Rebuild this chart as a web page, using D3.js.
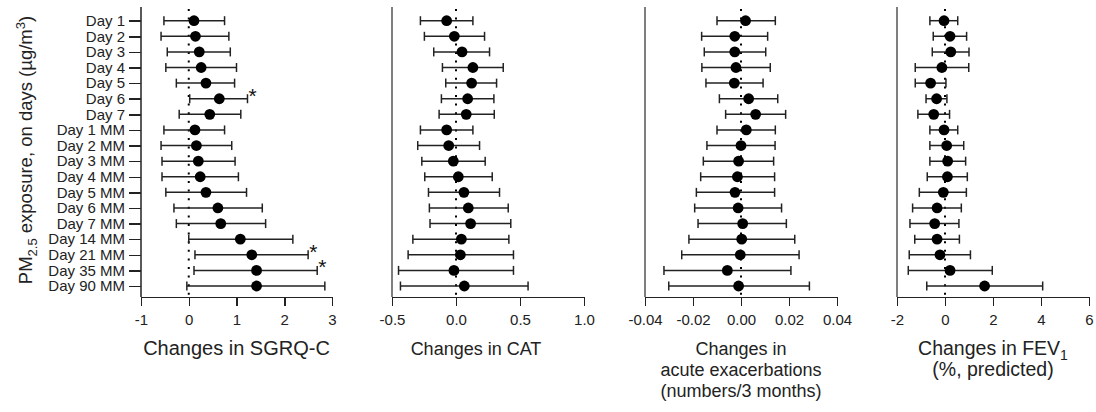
<!DOCTYPE html>
<html>
<head>
<meta charset="UTF-8">
<script src="https://d3js.org/d3.v7.min.js"></script>
<style>
  body { margin: 0; background: #fff; font-family: "Liberation Sans", Arial, sans-serif; }
  svg { display: block; }
  .axis path, .axis line { stroke: #222; stroke-width: 1.5; shape-rendering: crispEdges; }
  .axis text { font-size: 15px; fill: #222; }
  .rowlab text { font-size: 15px; fill: #222; }
  .title { fill: #222; text-anchor: middle; }
</style>
</head>
<body>
<script>
// row labels (top to bottom)
const days = ["Day 1", "Day 2", "Day 3", "Day 4", "Day 5", "Day 6", "Day 7",
  "Day 1 MM", "Day 2 MM", "Day 3 MM", "Day 4 MM", "Day 5 MM", "Day 6 MM", "Day 7 MM",
  "Day 14 MM", "Day 21 MM", "Day 35 MM", "Day 90 MM"];

// [estimate, lower CI, upper CI] per row
const sgrq = [[0.11,-0.52,0.75],[0.14,-0.58,0.84],[0.22,-0.45,0.87],[0.26,-0.48,1.00],[0.36,-0.26,0.96],
  [0.64,0.02,1.23],[0.44,-0.20,1.09],[0.13,-0.52,0.75],[0.16,-0.58,0.90],[0.20,-0.56,0.97],
  [0.24,-0.56,1.04],[0.36,-0.48,1.21],[0.61,-0.31,1.54],[0.67,-0.26,1.61],[1.08,0.00,2.18],
  [1.32,0.13,2.50],[1.42,0.11,2.69],[1.42,-0.04,2.85]];
const cat = [[-0.073,-0.278,0.132],[-0.013,-0.247,0.223],[0.047,-0.174,0.262],[0.132,-0.106,0.369],
  [0.122,-0.080,0.317],[0.091,-0.114,0.296],[0.080,-0.132,0.299],[-0.073,-0.278,0.132],
  [-0.057,-0.299,0.184],[-0.021,-0.267,0.228],[0.018,-0.244,0.283],[0.062,-0.215,0.340],
  [0.096,-0.208,0.408],[0.114,-0.203,0.428],[0.042,-0.337,0.413],[0.034,-0.374,0.449],
  [-0.016,-0.449,0.449],[0.065,-0.434,0.563]];
const exac = [[0.0019,-0.0100,0.0143],[-0.0026,-0.0164,0.0111],[-0.0026,-0.0153,0.0103],
  [-0.0021,-0.0163,0.0122],[-0.0028,-0.0146,0.0092],[0.0032,-0.0090,0.0153],[0.0061,-0.0064,0.0186],
  [0.0022,-0.0100,0.0143],[0.0000,-0.0142,0.0142],[-0.0010,-0.0157,0.0136],[-0.0015,-0.0168,0.0140],
  [-0.0025,-0.0186,0.0140],[-0.0012,-0.0193,0.0169],[0.0007,-0.0179,0.0189],[0.0003,-0.0217,0.0224],
  [-0.0003,-0.0247,0.0242],[-0.0057,-0.0321,0.0208],[-0.0010,-0.0301,0.0285]];
const fev = [[-0.04,-0.63,0.53],[0.21,-0.49,0.90],[0.24,-0.53,1.00],[-0.13,-1.24,0.99],
  [-0.60,-1.24,0.04],[-0.35,-0.79,0.08],[-0.47,-1.13,0.19],[-0.04,-0.63,0.53],[0.07,-0.63,0.78],
  [0.11,-0.63,0.86],[0.10,-0.74,0.93],[-0.07,-1.07,0.89],[-0.33,-1.35,0.68],[-0.43,-1.46,0.58],
  [-0.33,-1.26,0.60],[-0.21,-1.49,1.06],[0.21,-1.53,1.97],[1.65,-0.76,4.07]];

// significant rows (SGRQ-C only)
const sgrqStars = ["Day 6", "Day 21 MM", "Day 35 MM"];

// x-axis ticks
const ticks1 = [-1, 0, 1, 2, 3];
const ticks2 = [-0.5, 0.0, 0.5, 1.0];
const ticks3 = [-0.04, -0.02, 0.00, 0.02, 0.04];
const ticks4 = [-2, 0, 2, 4, 6];

const W = 1096, H = 412;
const plotTop = 7, axisY = 297;

const svg = d3.select("body").append("svg").attr("width", W).attr("height", H);

const y = d3.scalePoint().domain(days).range([20.7, 286]);

const panels = [
  { data: sgrq, domain: [-1, 3], range: [141, 332], ticks: ticks1, fmt: ".0f", stars: sgrqStars,
    titleX: 236.5, titleSize: 20, title: [["Changes in SGRQ-C"]] },
  { data: cat, domain: [-0.5, 1.0], range: [392, 584], ticks: ticks2, fmt: ".1f", stars: [],
    titleX: 476, titleSize: 18, title: [["Changes in CAT"]] },
  { data: exac, domain: [-0.04, 0.04], range: [645, 837], ticks: ticks3, fmt: ".2f", stars: [],
    titleX: 741, titleSize: 18, title: [["Changes in"], ["acute exacerbations"], ["(numbers/3 months)"]] },
  { data: fev, domain: [-2, 6], range: [897, 1089], ticks: ticks4, fmt: ".0f", stars: [],
    titleX: 993, titleSize: 19.5, title: [["Changes in FEV", "1"], ["(%, predicted)"]] }
];

panels.forEach((p, i) => {
  const x = d3.scaleLinear().domain(p.domain).range(p.range);
  const g = svg.append("g");
  const fmt = d3.format(p.fmt);

  // x axis
  g.append("g")
    .attr("class", "axis")
    .attr("transform", "translate(0," + axisY + ")")
    .call(d3.axisBottom(x).tickValues(p.ticks).tickSize(9).tickSizeOuter(0).tickPadding(8)
      .tickFormat(d => fmt(d).replace("\u2212", "-")));

  // y axis line
  g.append("line")
    .attr("x1", p.range[0]).attr("x2", p.range[0])
    .attr("y1", plotTop).attr("y2", axisY)
    .attr("stroke", i === 0 ? "#222" : "#555")
    .attr("stroke-width", 1.5);

  // row ticks + labels on first panel only
  if (i === 0) {
    const ya = g.append("g")
      .attr("class", "axis rowlab")
      .attr("transform", "translate(" + p.range[0] + ",0)")
      .call(d3.axisLeft(y).tickSize(12).tickPadding(4));
    ya.select(".domain").remove();
  }

  // dotted zero line
  g.append("line")
    .attr("x1", x(0)).attr("x2", x(0))
    .attr("y1", plotTop + 2).attr("y2", axisY + 3)
    .attr("stroke", "#000")
    .attr("stroke-width", 2)
    .attr("stroke-dasharray", "2,6.6");

  const rows = g.selectAll(".row").data(p.data).enter().append("g").attr("class", "row");

  rows.append("line")
    .attr("x1", d => x(d[1])).attr("x2", d => x(d[2]))
    .attr("y1", (d, j) => y(days[j])).attr("y2", (d, j) => y(days[j]))
    .attr("stroke", "#222").attr("stroke-width", 1.5);
  rows.append("line")
    .attr("x1", d => x(d[1])).attr("x2", d => x(d[1]))
    .attr("y1", (d, j) => y(days[j]) - 4.5).attr("y2", (d, j) => y(days[j]) + 4.5)
    .attr("stroke", "#222").attr("stroke-width", 1.5);
  rows.append("line")
    .attr("x1", d => x(d[2])).attr("x2", d => x(d[2]))
    .attr("y1", (d, j) => y(days[j]) - 4.5).attr("y2", (d, j) => y(days[j]) + 4.5)
    .attr("stroke", "#222").attr("stroke-width", 1.5);
  rows.append("circle")
    .attr("cx", d => x(d[0]))
    .attr("cy", (d, j) => y(days[j]))
    .attr("r", 5.4)
    .attr("fill", "#000");

  // significance stars
  p.data.forEach((d, j) => {
    if (p.stars.indexOf(days[j]) >= 0) {
      g.append("text")
        .attr("x", x(d[2]) + 1)
        .attr("y", y(days[j]) + 4)
        .attr("font-size", 21)
        .attr("fill", "#111")
        .text("*");
    }
  });

  // axis title
  p.title.forEach((line, k) => {
    const t = g.append("text").attr("class", "title")
      .attr("font-size", p.titleSize)
      .attr("x", p.titleX).attr("y", 355 + k * 21);
    t.append("tspan").text(line[0]);
    if (line[1]) {
      t.append("tspan").attr("dy", 5).attr("font-size", 14).text(line[1]);
    }
  });
});

// y title
const yt = svg.append("text")
  .attr("class", "title")
  .attr("font-size", 18.5)
  .attr("transform", "translate(32,150) rotate(-90)");
yt.append("tspan").text("PM");
yt.append("tspan").attr("dy", 5).attr("font-size", 13).text("2.5");
yt.append("tspan").attr("dy", -5).text(" exposure, on days (\u00b5g/m");
yt.append("tspan").attr("dy", -7).attr("font-size", 13).text("3");
yt.append("tspan").attr("dy", 7).text(")");
</script>
</body>
</html>
